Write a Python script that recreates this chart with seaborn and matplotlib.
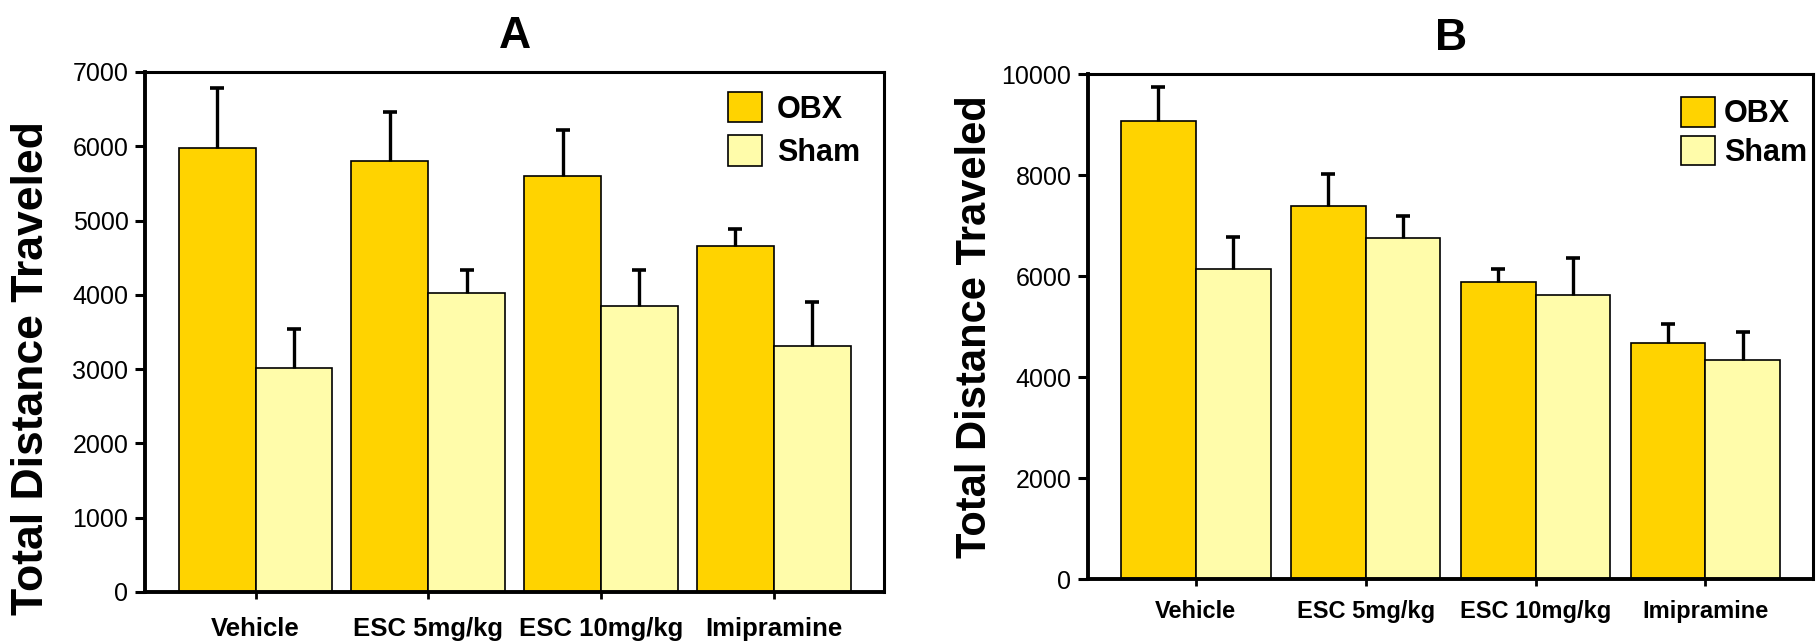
import matplotlib
matplotlib.use('Agg')
import matplotlib.pyplot as plt
from matplotlib.patches import Patch
import seaborn as sns
import pandas as pd
import numpy as np

sns.set_style('ticks')
plt.rcParams['font.family'] = ['Liberation Sans', 'DejaVu Sans']
plt.rcParams['text.color'] = 'black'
plt.rcParams['axes.labelcolor'] = 'black'
plt.rcParams['xtick.color'] = 'black'
plt.rcParams['ytick.color'] = 'black'

tratamientos = ['Vehicle', 'ESC 5mg/kg', 'ESC 10mg/kg', 'Imipramine']
grupos = ['OBX', 'Sham']
colores = {'OBX': '#FFD300', 'Sham': '#FFFCAA'}

# Panel A - medias y error (solo hacia arriba)
a_obx = [5970, 5800, 5600, 4660]
a_obx_err = [820, 660, 620, 230]
a_sham = [3010, 4030, 3850, 3310]
a_sham_err = [530, 310, 480, 600]

# Panel B
b_obx = [9070, 7390, 5890, 4680]
b_obx_err = [680, 640, 250, 370]
b_sham = [6140, 6760, 5630, 4330]
b_sham_err = [640, 430, 720, 570]


def panel(ax, obx, obx_err, sham, sham_err, ancho):
    df = pd.DataFrame({
        'Tratamiento': tratamientos * 2,
        'Grupo': ['OBX'] * len(obx) + ['Sham'] * len(sham),
        'Distancia': obx + sham,
    })
    sns.barplot(data=df, x='Tratamiento', y='Distancia', hue='Grupo',
                palette=colores, saturation=1, width=ancho, edgecolor='black',
                linewidth=1.2, errorbar=None, ax=ax, legend=False)
    for cont, err in zip(ax.containers, [obx_err, sham_err]):
        xs = [b.get_x() + b.get_width() / 2 for b in cont]
        ys = [b.get_height() for b in cont]
        _, caps, _ = ax.errorbar(xs, ys, yerr=[np.zeros(len(err)), err], fmt='none',
                                 ecolor='black', elinewidth=2.4, capsize=5,
                                 capthick=2.6, zorder=5)
        # solo la tapa superior
        caps[0].set_visible(False)
    ax.set_xlabel('')
    for lado in ['left', 'bottom']:
        ax.spines[lado].set_linewidth(2.8)
    for lado in ['top', 'right']:
        ax.spines[lado].set_linewidth(2.2)
        ax.spines[lado].set_visible(True)
    for s in ax.spines.values():
        s.set_color('black')


fig = plt.figure(figsize=(18.18, 6.42), dpi=100)
axA = fig.add_axes([0.0798, 0.0779, 0.4065, 0.81])
axB = fig.add_axes([0.5985, 0.0981, 0.3988, 0.7866])

# GRÁFICA A
panel(axA, a_obx, a_obx_err, a_sham, a_sham_err, 0.89)
axA.set_ylim(0, 7000)
axA.set_yticks(range(0, 7001, 1000))
axA.tick_params(axis='y', length=7, width=2.2, pad=5, labelsize=18)
axA.tick_params(axis='x', length=5, width=2, pad=13, labelsize=18.5)
axA.set_ylabel('Total Distance Traveled', fontsize=32, fontweight='bold', va='center')
axA.yaxis.set_label_coords(-0.154, 0.43)
axA.set_title('A', fontsize=32, fontweight='bold', pad=17)

# GRÁFICA B
panel(axB, b_obx, b_obx_err, b_sham, b_sham_err, 0.88)
axB.set_ylim(0, 10000)
axB.set_yticks(range(0, 10001, 2000))
axB.tick_params(axis='y', length=7, width=2.2, pad=5, labelsize=18)
axB.tick_params(axis='x', length=5, width=2, pad=10, labelsize=17)
axB.set_ylabel('Total Distance Traveled', fontsize=30, fontweight='bold', va='center')
axB.yaxis.set_label_coords(-0.156, 0.5)
axB.set_title('B', fontsize=32, fontweight='bold', pad=17)

for ax in [axA, axB]:
    for lbl in ax.get_xticklabels():
        lbl.set_fontweight('bold')

handles = [Patch(facecolor=colores[g], edgecolor='black', linewidth=1.2, label=g) for g in grupos]
axA.legend(handles=handles, loc='upper left', bbox_to_anchor=(0.789, 0.9615),
           frameon=False, prop={'weight': 'bold', 'size': 22},
           handlelength=1.1, handleheight=1.15, handletextpad=0.5,
           labelspacing=0.35, borderpad=0, borderaxespad=0)
axB.legend(handles=handles, loc='upper left', bbox_to_anchor=(0.818, 0.954),
           frameon=False, prop={'weight': 'bold', 'size': 22},
           handlelength=1.1, handleheight=1.12, handletextpad=0.3,
           labelspacing=0.2, borderpad=0, borderaxespad=0)

fig.savefig('out.png', dpi=100)
